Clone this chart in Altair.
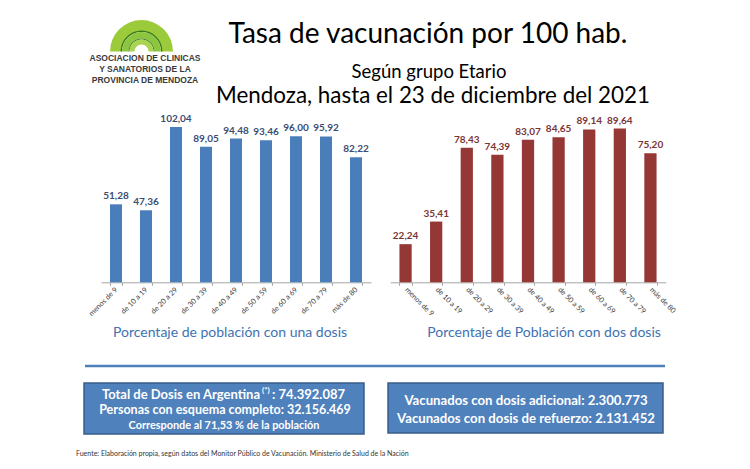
import altair as alt
import pandas as pd

# ---------------- data ----------------
grupos = ["menos de 9", "de 10 a 19", "de 20 a 29", "de 30 a 39", "de 40 a 49",
          "de 50 a 59", "de 60 a 69", "de 70 a 79", "más de 80"]
una_dosis = [51.28, 47.36, 102.04, 89.05, 94.48, 93.46, 96.00, 95.92, 82.22]
dos_dosis = [22.24, 35.41, 78.43, 74.39, 83.07, 84.65, 89.14, 89.64, 75.20]

titulo = "Tasa de vacunación por 100 hab."
subtitulo = "Según grupo Etario"
lugar_fecha = "Mendoza, hasta el 23 de diciembre del 2021"
sub_izq = "Porcentaje de población con una dosis"
sub_der = "Porcentaje de Población con dos dosis"
logo_lineas = ["ASOCIACION DE CLINICAS", "Y SANATORIOS DE LA", "PROVINCIA DE MENDOZA"]
caja_izq = ["Total de Dosis  en Argentina", "(*)", ": 74.392.087",
            "Personas con esquema completo: 32.156.469",
            "Corresponde al 71,53 % de la población"]
caja_der = ["Vacunados con dosis adicional: 2.300.773",
            "Vacunados con dosis de refuerzo: 2.131.452"]
fuente = ("Fuente: Elaboración propia, según datos del Monitor Público de Vacunación. "
          "Ministerio de Salud de la Nación")


def fmt(v):
    return f"{v:.2f}".replace(".", ",")


df_l = pd.DataFrame({"grupo": grupos, "valor": una_dosis,
                     "etiqueta": [fmt(v) for v in una_dosis]})
df_r = pd.DataFrame({"grupo": grupos, "valor": dos_dosis,
                     "etiqueta": [fmt(v) for v in dos_dosis]})
one = pd.DataFrame({"k": [0]})

FONT = "Lato"
AXIS_Y = 274.3
H = 450


def panel(df, color, label_color, x_range, y_top, angle, align):
    xs = alt.X("grupo:N", sort=grupos, title=None,
               scale=alt.Scale(range=x_range, paddingInner=0.6, paddingOuter=0.3),
               axis=alt.Axis(orient="bottom", offset=AXIS_Y - H, labelAngle=angle,
                             labelAlign=align, labelBaseline="middle",
                             labelFontSize=7.3, labelFont=FONT, labelColor="#404040",
                             labelPadding=3, tickBand="extent", tickSize=3,
                             tickColor="#a6a6a6", domainColor="#a6a6a6",
                             grid=False, labelOverlap=False, labelBound=False))
    ys = alt.Y("valor:Q", scale=alt.Scale(domain=[0, 100], range=[AXIS_Y, y_top],
                                          nice=False, zero=True), axis=None)
    bars = alt.Chart(df).mark_bar(color=color).encode(x=xs, y=ys)
    txt = alt.Chart(df).mark_text(font=FONT, fontSize=10, fontWeight="bold",
                                  color=label_color, baseline="alphabetic",
                                  dy=-5).encode(x=xs, y=ys, text="etiqueta:N")
    return alt.layer(bars, txt)


left = panel(df_l, "#4a7ebb", "#3b4d72", [93, 363], AXIS_Y - 152.1, -45, "right")
right = panel(df_r, "#953735", "#7a3535", [382.25, 657.75], AXIS_Y - 171.5, 45, "left")


def label(text, x, y, size, color="#000000", weight="normal", align="center",
          font=FONT):
    return alt.Chart(one).mark_text(text=text, font=font, fontSize=size,
                                    fontWeight=weight, color=color, align=align,
                                    baseline="alphabetic").encode(
        x=alt.value(x), y=alt.value(y))


def rect(x, x2, y, y2, fill, stroke):
    return alt.Chart(one).mark_rect(fill=fill, stroke=stroke, strokeWidth=1.5).encode(
        x=alt.value(x), x2=alt.value(x2), y=alt.value(y), y2=alt.value(y2))


def arc(r1, r2, color):
    return alt.Chart(one).mark_arc(theta=4.7124, theta2=7.8540, radius=r2,
                                   radius2=r1, color=color).encode(
        x=alt.value(133.5), y=alt.value(43.5))


annot = [
    # logo
    arc(20.5, 31.5, "#9bcb3b"),
    arc(19.5, 21, "#3d7a1a"),
    arc(13, 19.5, "#8cc63f"),
    arc(12, 13, "#3d7a1a"),
    arc(7, 12, "#a8d44e"),
    label(logo_lineas[0], 137, 52.5, 8.5, "#3a3a3a", "bold", font="Liberation Sans"),
    label(logo_lineas[1], 137, 63.5, 8.5, "#3a3a3a", "bold", font="Liberation Sans"),
    label(logo_lineas[2], 137, 74.5, 8.5, "#3a3a3a", "bold", font="Liberation Sans"),
    # titles
    label(titulo, 420, 35, 28),
    label(subtitulo, 421, 70, 18.5),
    label(lugar_fecha, 425, 95, 22.4),
    # panel subtitles
    label(sub_izq, 222, 329, 14, "#3e71b3"),
    label(sub_der, 536, 329, 14, "#3e71b3"),
    # separator
    alt.Chart(one).mark_rule(color="#4f7fb8", strokeWidth=2.5).encode(
        x=alt.value(77), x2=alt.value(657), y=alt.value(358)),
    # boxes
    rect(76, 356, 375, 426, "#4f81bd", "#385d8a"),
    rect(380, 655, 375, 425, "#4f81bd", "#385d8a"),
    label(caja_izq[0], 252, 391, 13, "#ffffff", "bold", "right"),
    label(caja_izq[1], 254, 385, 8, "#ffffff", "bold", "left"),
    label(caja_izq[2], 264, 391, 13, "#ffffff", "bold", "left"),
    label(caja_izq[3], 217, 406, 12.5, "#ffffff", "bold"),
    label(caja_izq[4], 216, 421, 10.9, "#ffffff", "bold"),
    label(caja_der[0], 518, 397, 13.2, "#ffffff", "bold"),
    label(caja_der[1], 518, 415, 13.2, "#ffffff", "bold"),
    # source
    label(fuente, 68, 448, 7, "#333333", align="left"),
]

chart = alt.layer(left, right, *annot).resolve_scale(
    x="independent", y="independent"
).properties(
    width=730, height=H, padding=0, background="#ffffff",
    autosize=alt.AutoSizeParams(type="none"),
).configure_view(stroke=None)

chart.save("out.html", embed_options={"renderer": "svg", "actions": False})
